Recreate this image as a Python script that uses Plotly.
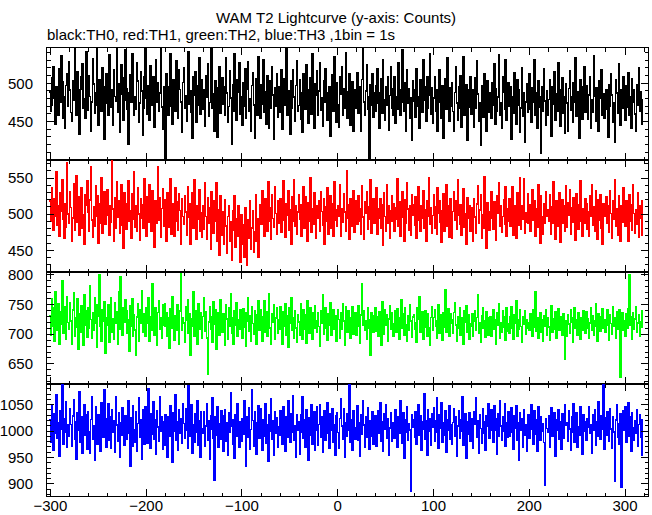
import plotly.graph_objects as go
from plotly.subplots import make_subplots

# ---------------- data (counts per 1 s bin) ----------------
t_start = -301  # time of first bin (s)

th0 = [
489,463,471,507,522,481,447,495,466,458,519,476,536,502,455,483,441,497,512,470,
528,491,462,450,503,478,547,486,459,515,474,433,492,509,526,468,480,455,541,497,
465,510,483,438,476,532,499,461,488,553,471,446,505,490,464,520,481,427,496,513,
474,458,537,502,469,491,445,518,483,477,550,462,499,436,486,524,507,452,478,544,
493,466,421,488,511,475,539,497,458,482,466,527,503,449,474,515,490,432,468,509,
546,481,460,497,452,523,486,472,508,443,491,531,475,500,463,487,554,469,440,496,
478,402,512,483,459,496,538,470,447,505,489,463,529,481,454,517,492,476,436,501,
520,467,484,451,498,541,473,490,462,429,508,485,515,449,497,471,533,460,488,505,
466,491,444,510,482,526,457,475,499,551,468,486,437,503,479,430,494,522,461,484,
507,473,495,458,533,487,449,470,516,481,420,498,464,539,476,452,505,488,527,460,
483,446,501,470,519,455,492,528,463,480,437,497,514,472,429,488,506,459,535,476,
454,498,473,531,462,489,447,510,478,441,503,467,521,485,427,494,470,512,456,482,
495,462,518,440,483,506,471,545,458,490,476,434,503,468,517,482,451,497,529,464,
471,505,453,487,436,512,479,466,524,492,448,481,507,460,538,474,442,499,485,516,
458,490,527,465,481,444,503,476,519,488,452,470,496,431,477,511,463,534,482,449,
500,472,443,508,486,521,459,493,467,540,481,455,489,513,446,478,502,437,491,468,
485,514,461,496,473,437,505,549,476,459,490,524,466,483,401,498,471,512,456,487,
463,497,519,474,442,488,506,461,530,479,452,495,471,508,439,484,522,467,493,458,
509,448,482,466,527,491,458,476,544,485,463,500,438,517,474,493,455,481,426,503,
477,492,456,519,483,470,441,505,487,462,531,478,496,450,509,468,485,539,460,494,
448,481,509,463,492,437,476,518,485,455,497,428,472,506,466,533,479,451,494,470,
501,463,437,488,521,474,452,496,467,510,443,483,535,459,477,498,426,491,469,508,
460,492,475,443,507,468,529,486,451,474,419,497,480,456,513,471,438,503,482,462,
487,455,501,472,526,447,493,464,482,537,458,475,441,509,489,466,531,452,478,500,
470,496,427,483,461,514,480,447,505,472,491,436,468,520,457,488,423,476,499,462,
483,512,466,449,494,475,530,458,487,441,503,469,482,409,495,463,519,477,446,490,
458,479,504,468,431,496,473,515,452,486,463,527,478,444,491,507,461,482,435,499,
474,438,493,516,465,482,449,501,476,533,457,489,467,428,505,478,453,496,521,462,
497,469,453,485,508,441,478,462,536,483,450,494,472,437,503,481,518,459,486,455,
466,491,477,430,498,470,512,485,449,475,423,504,487,461,526,473,446,492,468,509,
481,452,497,469,514,458,483,442,506,475,492,460,437,498,471,520,464,489,447,479,
]

th1 = [
518,491,536,503,478,522,497,559,485,511,470,529,504,548,493,467,515,482,571,500,
487,531,509,463,495,542,478,516,553,489,524,471,506,537,481,499,458,527,512,546,
503,476,520,565,492,468,510,483,539,497,526,460,515,488,550,474,507,531,486,519,
534,498,471,512,489,575,507,462,523,480,545,496,518,474,509,541,485,453,529,502,
479,514,546,491,505,467,528,493,558,482,511,476,537,500,464,522,495,513,481,549,
506,470,524,489,541,511,477,532,496,455,518,503,487,566,492,523,468,508,535,484,
520,495,462,530,507,482,549,473,514,501,469,536,491,517,478,528,505,458,521,497,
486,526,503,471,538,496,515,459,490,529,481,547,506,465,512,493,534,477,502,468,
512,479,544,497,466,523,487,509,452,531,498,474,518,490,543,463,506,443,525,494,
471,503,458,520,484,446,497,512,462,489,437,505,478,526,455,493,469,511,482,433,
499,458,486,441,509,473,430,492,467,518,452,481,505,447,476,527,463,494,440,488,
513,486,532,498,470,521,504,477,545,491,509,466,527,494,482,538,501,473,519,496,
488,521,475,509,546,492,468,515,499,533,478,506,459,524,490,547,483,511,472,503,
527,493,513,469,502,538,481,524,497,462,516,490,551,475,508,486,529,499,467,512,
495,519,476,531,504,485,522,458,510,491,537,473,500,526,481,514,469,545,492,506,
483,512,497,540,470,508,489,528,503,477,560,494,513,466,521,499,484,533,475,509,
518,486,525,491,507,473,539,496,465,517,502,531,479,510,493,548,474,504,521,487,
501,536,472,508,494,522,481,513,457,529,497,476,541,488,511,467,505,526,490,515,
476,509,493,549,483,517,469,502,531,496,462,520,488,544,507,478,512,471,527,499,
513,485,524,467,503,538,492,476,511,495,533,481,506,463,518,497,550,486,509,474,
498,527,481,510,473,536,502,519,489,461,505,528,477,494,541,483,512,468,521,496,
467,504,531,492,518,479,547,499,486,513,471,508,535,482,500,458,523,494,511,476,
509,485,462,521,496,474,514,539,488,506,527,467,499,481,552,492,453,516,503,478,
495,531,508,479,517,490,464,526,501,544,483,512,475,497,520,486,538,469,507,490,
521,483,506,538,471,512,495,467,529,504,485,550,479,511,493,549,474,502,489,528,
488,513,476,502,534,492,519,470,507,482,541,498,460,525,496,473,514,488,531,497,
506,491,527,473,510,488,545,504,466,518,495,483,530,461,504,520,487,511,476,539,
482,516,499,534,472,509,489,523,497,464,528,505,479,513,546,491,470,507,488,522,
514,479,503,469,526,497,541,485,510,476,533,500,465,520,492,527,481,459,515,498,
497,524,488,512,475,532,501,467,519,493,547,484,508,471,526,496,463,512,489,536,
509,483,518,495,462,527,490,513,478,541,501,474,506,486,530,468,512,494,471,520,
]

th2 = [
731,698,759,714,745,689,772,726,707,751,683,738,717,790,702,729,746,691,764,720,
708,753,722,684,741,770,697,728,712,759,675,735,703,748,724,681,767,716,739,695,
744,711,782,725,693,737,706,761,719,678,750,730,801,713,688,742,722,754,668,727,
716,749,687,733,762,704,726,692,753,718,738,684,771,709,797,731,699,744,721,758,
739,702,725,671,748,714,760,696,733,707,665,729,752,688,741,719,774,703,734,711,
696,744,718,761,689,730,707,785,722,699,745,713,681,737,756,708,727,694,750,716,
752,714,736,697,728,676,743,711,764,725,690,731,706,749,718,683,739,802,707,728,
719,687,746,723,758,702,734,664,726,713,771,697,740,716,683,751,728,709,736,693,
730,761,705,738,694,632,721,747,708,729,686,755,717,742,674,711,736,699,758,720,
703,735,719,681,750,726,692,744,713,768,701,727,684,739,715,753,696,724,708,741,
728,694,743,712,736,679,722,761,705,731,689,747,718,700,740,715,684,733,756,707,
742,716,689,729,757,703,738,696,726,768,711,684,735,720,749,692,727,744,701,725,
709,746,721,683,738,714,752,699,731,678,745,719,762,706,727,693,740,711,687,733,
721,698,751,726,692,741,709,733,685,757,718,702,745,729,691,737,711,748,723,704,
736,713,680,739,719,766,700,727,745,710,690,734,716,753,699,725,742,708,731,689,
712,742,725,694,736,708,751,722,681,747,730,704,739,717,693,728,746,700,721,737,
699,727,748,713,685,732,785,716,740,706,722,691,744,725,710,664,737,718,703,731,
744,705,729,696,738,718,682,754,724,700,741,715,733,688,726,748,709,736,714,697,
717,739,704,743,721,692,727,758,710,734,698,745,716,689,731,706,750,722,695,729,
733,709,720,687,745,726,764,703,719,738,692,712,740,724,696,735,711,681,728,747,
706,728,741,714,694,723,749,701,732,716,690,737,712,775,704,726,743,697,719,735,
724,702,737,753,716,689,730,711,744,698,727,709,684,739,721,748,703,733,692,718,
713,734,697,722,740,706,728,766,701,719,686,731,745,710,723,695,738,715,699,727,
730,696,717,742,709,725,684,736,715,752,694,720,703,739,712,729,690,744,718,705,
702,729,746,711,691,733,719,756,697,724,708,741,713,686,730,717,739,700,725,711,
719,706,735,722,697,741,712,771,705,728,693,716,737,703,724,689,731,714,742,698,
727,712,690,731,748,703,726,709,738,694,720,743,707,729,715,698,734,711,658,722,
696,733,717,702,741,720,687,728,745,710,725,699,736,714,692,727,706,739,716,701,
738,711,726,693,719,744,707,731,698,722,752,713,689,735,720,705,729,743,710,724,
704,725,741,716,690,732,718,700,747,713,727,694,738,709,723,741,627,712,736,706,
722,697,734,710,743,800,715,729,692,737,708,726,747,703,719,733,696,721,740,711,
]

th3 = [
1021,978,1047,1006,963,1032,995,1068,987,1015,952,1039,1003,1089,976,1024,997,1055,969,1011,
990,1043,1012,971,1028,1059,984,1017,946,1035,1002,1074,979,1026,958,1008,1049,993,1031,966,
1037,999,958,1022,1064,985,1010,944,1046,1018,975,1030,1001,962,1053,1013,989,1078,1024,970,
1006,1051,983,1027,967,1040,997,1020,959,1065,1011,980,1034,950,1016,993,1044,1007,973,1029,
984,1019,1058,996,934,1025,972,1048,1003,979,1037,961,1014,1062,988,1022,947,1009,1041,976,
1045,1002,977,1079,1013,968,1032,994,1055,985,1021,957,1038,1008,981,1064,999,1026,965,1017,
973,1030,1006,950,1027,991,1047,1012,941,1035,1000,1069,983,1018,963,1040,995,1023,977,1052,
1014,986,1043,1002,968,1086,1025,990,1049,958,1011,979,1033,997,1058,974,1020,950,1037,1005,
996,1036,971,1010,1052,983,1019,947,1029,1004,1062,987,907,1026,993,1045,969,1013,985,1039,
1028,962,1007,1041,980,1016,955,1034,998,1073,1009,976,1022,948,1030,990,1051,1002,969,1018,
981,1024,994,1057,1011,934,1027,989,1044,965,1003,1078,1020,972,1036,998,956,1015,1048,987,
1043,1005,963,1021,990,1052,977,1012,942,1030,1000,1061,985,1019,954,1037,996,1025,969,1008,
992,1039,1010,975,1046,1004,961,1027,989,1057,1014,979,1033,997,1067,983,1009,951,1030,1001,
1018,956,1031,998,1064,986,1022,970,1040,1007,944,1025,993,1050,976,1013,1036,964,1002,1045,
973,1012,1049,988,1027,960,1005,1038,982,1019,1054,995,967,1032,1001,1043,978,1011,955,1028,
1035,997,968,1024,1061,1009,985,1042,951,1016,990,1033,1002,1090,979,1021,963,1038,1006,984,
1001,1047,982,1015,952,1030,994,1057,1011,970,1026,988,1044,1005,966,1019,991,1036,975,1013,
1029,972,1010,1038,996,1054,981,1017,961,1032,1004,1049,987,1023,954,1006,1035,980,1016,993,
986,1041,1004,969,1026,995,1058,1012,977,1034,948,1021,997,1045,983,1014,1002,887,1030,1007,
1022,989,1037,975,1011,1050,993,1028,964,1017,1003,1071,985,1019,955,1040,999,1024,973,1033,
1008,1044,981,1019,1062,997,968,1030,1006,1053,979,1015,992,1038,960,1022,1001,1047,984,1012,
975,1016,1042,991,1027,953,1010,1039,987,1021,1000,1064,973,1006,1033,948,1018,994,1035,980,
1024,1003,967,1036,1012,1063,989,1020,958,1031,1005,977,1043,996,1017,963,1028,1009,1051,986,
1001,1040,1014,978,1047,1002,1024,957,1033,991,1057,1010,982,1026,999,1051,971,1016,988,1037,
990,1019,1044,997,965,1029,1006,1048,983,1015,944,1034,1002,1023,970,1040,992,1012,961,1025,
1031,986,1012,1050,1003,976,1038,994,1021,961,1045,1008,982,1027,999,1013,978,898,1024,1005,
997,1028,970,1015,1044,990,1009,1035,953,1022,1001,1040,985,1018,966,1032,1007,986,1049,1011,
1016,981,1039,1004,963,1026,998,1052,979,1013,1034,970,1008,993,1045,1021,957,1030,1000,1018,
983,1024,1007,1046,995,1012,958,1031,1002,1040,974,1017,991,1056,1009,985,1028,1003,1089,966,
1025,992,1036,1011,980,1043,1004,967,1027,998,905,1021,1049,988,1014,976,1033,893,1010,1039,
1002,1045,978,1018,1054,990,1026,962,1035,1007,983,1020,996,1041,971,1012,1030,988,955,1023,
]

series = [th0, th1, th2, th3]
colors = ["#000000", "#ff0000", "#00ff00", "#0000ff"]
names = ["TH0", "TH1", "TH2", "TH3"]
y_ranges = [[400, 546], [420, 575], [616, 805], [877, 1089]]
y_tickvals = [[450, 500], [450, 500, 550], [650, 700, 750, 800], [900, 950, 1000, 1050]]
x_range = [-303.5, 324]
x_tickvals = [-300, -200, -100, 0, 100, 200, 300]

title_text = "WAM T2 Lightcurve (y-axis: Counts)"
subtitle_text = "black:TH0, red:TH1, green:TH2, blue:TH3 ,1bin = 1s"

# ---------------- figure ----------------
FONT = "Liberation Sans, Arial, Helvetica, sans-serif"
fig = make_subplots(rows=4, cols=1, shared_xaxes=True, vertical_spacing=0)

for i, (vals, col, nm) in enumerate(zip(series, colors, names)):
    xs = [t_start + k for k in range(len(vals))]
    fig.add_trace(
        go.Scatter(x=xs, y=vals, mode="lines",
                   line=dict(color=col, width=1.6, shape="hv", simplify=False),
                   name=nm, showlegend=False, hoverinfo="skip"),
        row=i + 1, col=1,
    )
    fig.update_yaxes(
        range=y_ranges[i], tickmode="array", tickvals=y_tickvals[i],
        showline=True, linecolor="black", linewidth=1, mirror="allticks",
        ticks="inside", ticklen=7, tickwidth=1, tickcolor="black",
        minor=dict(ticks="inside", ticklen=3.5, tickwidth=1, tickcolor="black",
                   tickmode="linear", tick0=0, dtick=10),
        showgrid=False, zeroline=False, ticklabelstandoff=10, automargin=False,
        tickfont=dict(family=FONT, size=15, color="black"),
        row=i + 1, col=1,
    )
    fig.update_xaxes(
        range=x_range, tickmode="array", tickvals=x_tickvals,
        showline=True, linecolor="black", linewidth=1, mirror="allticks",
        ticks="inside", ticklen=7, tickwidth=1, tickcolor="black",
        minor=dict(ticks="inside", ticklen=3.5, tickwidth=1, tickcolor="black",
                   tickmode="linear", tick0=0, dtick=20),
        showgrid=False, zeroline=False, automargin=False,
        showticklabels=(i == 3), ticklabelstandoff=-4,
        tickfont=dict(family=FONT, size=15, color="black"),
        row=i + 1, col=1,
    )

fig.add_annotation(text=title_text, xref="paper", yref="paper", x=0.481, y=1.069,
                   xanchor="center", yanchor="middle", showarrow=False,
                   font=dict(family=FONT, size=15, color="black"))
fig.add_annotation(text=subtitle_text, xref="paper", yref="paper", x=-0.003, y=1.030,
                   xanchor="left", yanchor="middle", showarrow=False,
                   font=dict(family=FONT, size=15, color="black"))

fig.update_layout(
    width=652, height=515,
    margin=dict(l=47, r=4, t=48, b=19),
    paper_bgcolor="white", plot_bgcolor="white",
    font=dict(family=FONT, size=15, color="black"),
)

page_js = (
    "document.documentElement.style.margin='0';"
    "document.body.style.margin='0';document.body.style.padding='0';"
    "document.body.style.overflow='hidden';"
    "var gd=document.getElementById('{plot_id}');"
    "function crisp(){gd.querySelectorAll('.scatterlayer path.js-line').forEach("
    "function(p){p.style.shapeRendering='crispEdges';});}"
    "crisp(); gd.on('plotly_afterplot', crisp);"
)
fig.write_html("out.html", post_script=page_js, config={"displayModeBar": False})
